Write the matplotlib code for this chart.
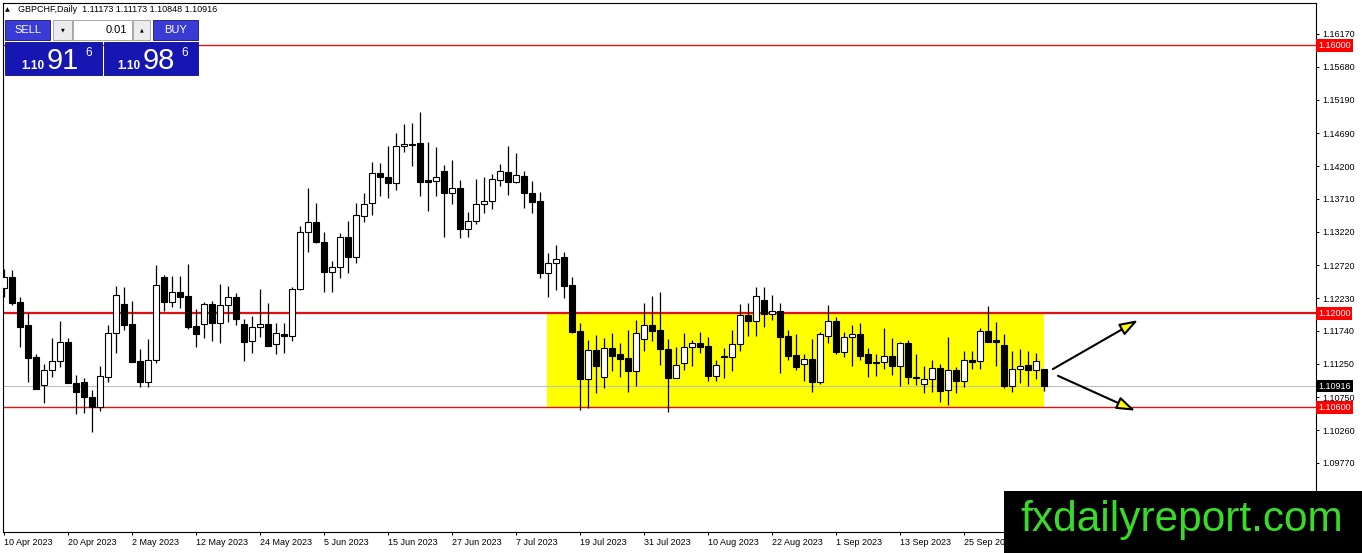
import matplotlib
matplotlib.use("Agg")
import matplotlib.pyplot as plt
from matplotlib.patches import Rectangle, FancyArrowPatch
import numpy as np
import pandas as pd

plt.rcParams['font.family'] = ['Liberation Sans', 'DejaVu Sans']

# GBPCHF daily candles
opens = [1.1238, 1.1254, 1.1217, 1.1183, 1.1135, 1.1093, 1.1116, 1.1129, 1.1157, 1.1096,
         1.1098, 1.1075, 1.1060, 1.1105, 1.1171, 1.1214, 1.1184, 1.1129, 1.1098, 1.1131,
         1.1254, 1.1217, 1.1232, 1.1226, 1.1181, 1.1184, 1.1214, 1.1186, 1.1213, 1.1225,
         1.1184, 1.1159, 1.1180, 1.1184, 1.1154, 1.1169, 1.1166, 1.1236, 1.1322, 1.1337,
         1.1307, 1.1262, 1.1269, 1.1314, 1.1284, 1.1345, 1.1365, 1.1410, 1.1404, 1.1395,
         1.1450, 1.1453, 1.1454, 1.1399, 1.1398, 1.1413, 1.1380, 1.1387, 1.1326, 1.1338,
         1.1363, 1.1368, 1.1399, 1.1411, 1.1396, 1.1405, 1.1380, 1.1368, 1.1260, 1.1275,
         1.1284, 1.1242, 1.1174, 1.1102, 1.1146, 1.1105, 1.1148, 1.1140, 1.1134, 1.1114,
         1.1162, 1.1183, 1.1175, 1.1147, 1.1104, 1.1126, 1.1150, 1.1156, 1.1151, 1.1107,
         1.1135, 1.1135, 1.1154, 1.1198, 1.1189, 1.1220, 1.1199, 1.1204, 1.1166, 1.1138,
         1.1125, 1.1132, 1.1098, 1.1166, 1.1189, 1.1143, 1.1165, 1.1169, 1.1140, 1.1128,
         1.1128, 1.1137, 1.1122, 1.1156, 1.1105, 1.1095, 1.1102, 1.1119, 1.1086, 1.1116,
         1.1099, 1.1131, 1.1129, 1.1174, 1.1160, 1.1153, 1.1092, 1.1117, 1.1123, 1.1116,
         1.11173]
highs = [1.1266, 1.1265, 1.1225, 1.1201, 1.1140, 1.1125, 1.1163, 1.1189, 1.1163, 1.1108,
         1.1104, 1.1086, 1.1122, 1.1183, 1.1241, 1.1240, 1.1219, 1.1147, 1.1162, 1.1272,
         1.1257, 1.1256, 1.1256, 1.1274, 1.1207, 1.1217, 1.1219, 1.1244, 1.1241, 1.1231,
         1.1192, 1.1196, 1.1236, 1.1216, 1.1186, 1.1186, 1.1240, 1.1331, 1.1387, 1.1365,
         1.1322, 1.1278, 1.1320, 1.1338, 1.1365, 1.1380, 1.1426, 1.1425, 1.1450, 1.1469,
         1.1483, 1.1484, 1.1501, 1.1456, 1.1448, 1.1422, 1.1429, 1.1399, 1.1351, 1.1401,
         1.1404, 1.1408, 1.1423, 1.1450, 1.1439, 1.1413, 1.1398, 1.1381, 1.1290, 1.1302,
         1.1292, 1.1254, 1.1186, 1.1160, 1.1168, 1.1163, 1.1171, 1.1156, 1.1175, 1.1190,
         1.1216, 1.1226, 1.1232, 1.1162, 1.1150, 1.1171, 1.1160, 1.1172, 1.1165, 1.1131,
         1.1148, 1.1175, 1.1214, 1.1216, 1.1240, 1.1240, 1.1228, 1.1216, 1.1175, 1.1169,
         1.1140, 1.1162, 1.1172, 1.1213, 1.1195, 1.1172, 1.1183, 1.1186, 1.1148, 1.1140,
         1.1178, 1.1163, 1.1157, 1.1160, 1.1140, 1.1122, 1.1131, 1.1125, 1.1165, 1.1120,
         1.1144, 1.1144, 1.1178, 1.1211, 1.1187, 1.1169, 1.1144, 1.1147, 1.1144, 1.1141,
         1.11173]
lows = [1.1225, 1.1213, 1.1150, 1.1098, 1.1087, 1.1066, 1.1105, 1.1120, 1.1096, 1.1050,
        1.1052, 1.1023, 1.1055, 1.1098, 1.1141, 1.1175, 1.1128, 1.1090, 1.1090, 1.1126,
        1.1204, 1.1210, 1.1208, 1.1177, 1.1150, 1.1163, 1.1159, 1.1156, 1.1187, 1.1183,
        1.1129, 1.1141, 1.1165, 1.1151, 1.1140, 1.1141, 1.1159, 1.1235, 1.1292, 1.1305,
        1.1232, 1.1232, 1.1253, 1.1260, 1.1275, 1.1337, 1.1347, 1.1375, 1.1372, 1.1384,
        1.1441, 1.1420, 1.1375, 1.1353, 1.1375, 1.1314, 1.1363, 1.1313, 1.1314, 1.1334,
        1.1350, 1.1356, 1.1390, 1.1377, 1.1395, 1.1357, 1.1350, 1.1253, 1.1225, 1.1235,
        1.1223, 1.1171, 1.1056, 1.1059, 1.1081, 1.1089, 1.1114, 1.1105, 1.1083, 1.1092,
        1.1144, 1.1159, 1.1123, 1.1053, 1.1104, 1.1116, 1.1122, 1.1141, 1.1099, 1.1099,
        1.1104, 1.1114, 1.1144, 1.1166, 1.1166, 1.1180, 1.1190, 1.1111, 1.1131, 1.1116,
        1.1099, 1.1083, 1.1095, 1.1156, 1.1140, 1.1135, 1.1122, 1.1131, 1.1105, 1.1107,
        1.1117, 1.1108, 1.1092, 1.1095, 1.1093, 1.1081, 1.1083, 1.1068, 1.1063, 1.1081,
        1.1090, 1.1117, 1.1117, 1.1157, 1.1122, 1.1089, 1.1083, 1.1096, 1.1092, 1.1102,
        1.10848]
closes = [1.1254, 1.1216, 1.1180, 1.1134, 1.1087, 1.1116, 1.1129, 1.1157, 1.1096, 1.1083,
          1.1075, 1.1060, 1.1107, 1.1171, 1.1228, 1.1183, 1.1128, 1.1098, 1.1131, 1.1242,
          1.1217, 1.1232, 1.1225, 1.1180, 1.1169, 1.1214, 1.1186, 1.1213, 1.1225, 1.1192,
          1.1157, 1.1180, 1.1184, 1.1151, 1.1171, 1.1166, 1.1236, 1.1322, 1.1337, 1.1307,
          1.1262, 1.1269, 1.1314, 1.1284, 1.1347, 1.1363, 1.1410, 1.1404, 1.1395, 1.1450,
          1.1453, 1.1451, 1.1396, 1.1396, 1.1404, 1.1380, 1.1387, 1.1326, 1.1338, 1.1363,
          1.1368, 1.1401, 1.1413, 1.1396, 1.1407, 1.1380, 1.1366, 1.1260, 1.1275, 1.1281,
          1.1241, 1.1172, 1.1102, 1.1146, 1.1122, 1.1148, 1.1137, 1.1132, 1.1114, 1.1171,
          1.1183, 1.1174, 1.1147, 1.1104, 1.1123, 1.1150, 1.1156, 1.1150, 1.1107, 1.1123,
          1.1136, 1.1154, 1.1198, 1.1189, 1.1226, 1.1199, 1.1204, 1.1165, 1.1137, 1.1120,
          1.1132, 1.1098, 1.1169, 1.1189, 1.1143, 1.1165, 1.1169, 1.1137, 1.1126, 1.1126,
          1.1137, 1.1122, 1.1156, 1.1105, 1.1104, 1.1102, 1.1119, 1.1084, 1.1116, 1.1099,
          1.1131, 1.1128, 1.1174, 1.1157, 1.1157, 1.1092, 1.1117, 1.1122, 1.1116, 1.1129,
          1.10916]

dates = pd.bdate_range("2023-04-10", periods=len(opens))

price_ticks = [1.16170, 1.15680, 1.15190, 1.14690, 1.14200, 1.13710, 1.13220,
               1.12720, 1.12230, 1.11740, 1.11250, 1.10750, 1.10260, 1.09770]
red_levels = [1.16000, 1.12000, 1.10600]
red_widths = [1.0, 1.6, 1.0]
bid = 1.10916

zone_first, zone_last = 68, 130
zone_low, zone_high = 1.10600, 1.12000

# projected moves (bar index, price)
arrow_up = [(131.1, 1.1117), (141.75, 1.1190)]
arrow_down = [(131.75, 1.1107), (141.4, 1.1055)]

W, H = 1362, 553
fig = plt.figure(figsize=(W / 100, H / 100), dpi=100)
fig.patch.set_facecolor('white')
ax = fig.add_axes([3 / W, (H - 532) / H, 1313 / W, 529 / H])

ax.set_xlim(-0.125, 164)
ax.set_ylim(1.08740, 1.16632)

# support / resistance zone
ax.add_patch(Rectangle((zone_first - 0.1, zone_low), zone_last - zone_first + 0.1,
                       zone_high - zone_low, facecolor='#ffff00', edgecolor='none', zorder=1))

for lvl, lw in zip(red_levels, red_widths):
    ax.axhline(lvl, color='#e01010', lw=lw, zorder=2)
ax.axhline(bid, color='#c0c0c0', lw=0.8, zorder=2)

x = np.arange(len(opens))
o = np.array(opens)
h = np.array(highs)
l = np.array(lows)
c = np.array(closes)
up = c >= o

ax.vlines(x, l, h, color='black', lw=0.9, zorder=3)
bottoms = np.minimum(o, c)
heights = np.maximum(np.abs(c - o), 0.00012)
ax.bar(x[up], heights[up], bottom=bottoms[up], width=0.66, color='white',
       edgecolor='black', linewidth=0.8, zorder=4)
ax.bar(x[~up], heights[~up], bottom=bottoms[~up], width=0.66, color='black',
       edgecolor='black', linewidth=0.8, zorder=4)

for start, end in (arrow_up, arrow_down):
    ax.add_patch(FancyArrowPatch(start, end, arrowstyle='-|>,head_length=11,head_width=3.8',
                                 mutation_scale=1, shrinkA=0, shrinkB=0, lw=1.5,
                                 facecolor='#ffff00', edgecolor='black', zorder=5))

# axes look of the terminal
for s in ax.spines.values():
    s.set_color('black')
    s.set_linewidth(0.8)
ax.yaxis.tick_right()
ax.set_yticks(price_ticks)
ax.set_yticklabels([f"{p:.5f}" for p in price_ticks])
ax.tick_params(axis='y', direction='out', length=2.5, width=0.7, pad=2, labelsize=6.5)

tick_idx = list(range(0, 121, 8))
ax.set_xticks(tick_idx)
ax.set_xticklabels([f"{dates[i].day} {dates[i]:%b %Y}" for i in tick_idx])
for lab in ax.get_xticklabels():
    lab.set_horizontalalignment('left')
ax.tick_params(axis='x', direction='out', length=2.5, width=0.7, pad=1.5, labelsize=6.5)

for lvl in red_levels:
    ax.text(1.0016, lvl, f"{lvl:.5f}", transform=ax.get_yaxis_transform(), ha='left',
            va='center', color='white', fontsize=6.5,
            bbox=dict(boxstyle='square,pad=0.2', fc='#ff0000', ec='none'))
ax.text(1.0016, bid, f"{bid:.5f}", transform=ax.get_yaxis_transform(), ha='left',
        va='center', color='white', fontsize=6.5,
        bbox=dict(boxstyle='square,pad=0.2', fc='black', ec='none'))


def px_rect(x0, y0, x1, y1, **kw):
    fig.patches.append(Rectangle((x0 / W, 1 - y1 / H), (x1 - x0) / W, (y1 - y0) / H,
                                 transform=fig.transFigure, **kw))


def px_text(xp, yp, s, **kw):
    fig.text(xp / W, 1 - yp / H, s, **kw)


# chart header
px_text(5, 10, "\u25b2", fontsize=4.5, va='center', family='DejaVu Sans')
px_text(18, 10, "GBPCHF,Daily  1.11173 1.11173 1.10848 1.10916", fontsize=6.5, va='center')

# one-click trading panel
px_rect(5, 20, 50, 40, facecolor='#3a3ad4', edgecolor='#10108a', lw=0.6)
px_rect(153, 20, 198, 40, facecolor='#3a3ad4', edgecolor='#10108a', lw=0.6)
px_rect(53, 20, 72, 40, facecolor='#ececec', edgecolor='#9a9a9a', lw=0.6)
px_rect(73, 20, 132, 40, facecolor='white', edgecolor='#9a9a9a', lw=0.6)
px_rect(133, 20, 150, 40, facecolor='#ececec', edgecolor='#9a9a9a', lw=0.6)
px_rect(5, 42, 102, 75, facecolor='#1616b2', edgecolor='#0a0a80', lw=0.6)
px_rect(104, 42, 198, 75, facecolor='#1616b2', edgecolor='#0a0a80', lw=0.6)
px_text(28, 30, "SELL", color='white', fontsize=8, ha='center', va='center')
px_text(176, 30, "BUY", color='white', fontsize=8, ha='center', va='center')
px_text(62.5, 30, "\u25bc", fontsize=3.5, ha='center', va='center', family='DejaVu Sans')
px_text(141.5, 30, "\u25b2", fontsize=3.5, ha='center', va='center', family='DejaVu Sans')
px_text(127, 30, "0.01", fontsize=8, ha='right', va='center')
for x0, big in ((21, "91"), (117, "98")):
    px_text(x0, 69, "1.10", color='white', fontsize=8.5, fontweight='bold', va='baseline')
    px_text(x0 + 26, 69, big, color='white', fontsize=21, va='baseline')
    px_text(x0 + 64, 47, "6", color='white', fontsize=8.5, va='top')

# watermark
px_rect(1004, 491, 1362, 553, facecolor='black', edgecolor='none', zorder=6)
px_text(1182, 520, "fxdailyreport.com", color='#38dc28', fontsize=30.5, ha='center',
        va='center', zorder=7)

fig.savefig("out.png", dpi=100)
